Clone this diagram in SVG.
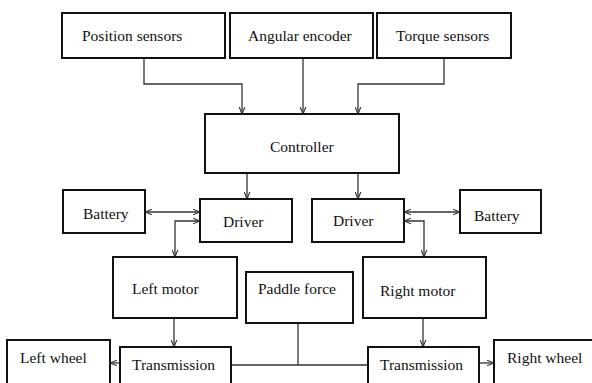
<svg xmlns="http://www.w3.org/2000/svg" width="592" height="383" viewBox="0 0 592 383">
<style>
.box{fill:#fff;stroke:#111;stroke-width:2}
.t{font-family:"Liberation Serif","Times New Roman",serif;font-size:15.5px;fill:#111}
.c{fill:none;stroke:#333;stroke-width:1.3}
</style>
<defs>
<marker id="a" viewBox="0 0 10 10" refX="10" refY="5" markerWidth="7" markerHeight="7" orient="auto-start-reverse" markerUnits="userSpaceOnUse">
<path d="M0,1 L10,5 L0,9" fill="none" stroke="#333" stroke-width="1.6"/>
</marker>
</defs>
<rect width="592" height="383" fill="#fff"/>
<g id="connectors">
<path class="c" d="M144,58 V84 H242 V114" marker-end="url(#a)"/>
<path class="c" d="M303,58 V114" marker-end="url(#a)"/>
<path class="c" d="M444,58 V84 H358 V114" marker-end="url(#a)"/>
<path class="c" d="M247,173 V199" marker-end="url(#a)"/>
<path class="c" d="M358,173 V199" marker-end="url(#a)"/>
<path class="c" d="M145,212 H200" marker-start="url(#a)" marker-end="url(#a)"/>
<path class="c" d="M200,221 H175 V257" marker-start="url(#a)" marker-end="url(#a)"/>
<path class="c" d="M404,212 H460" marker-start="url(#a)" marker-end="url(#a)"/>
<path class="c" d="M404,221 H424 V257" marker-start="url(#a)" marker-end="url(#a)"/>
<path class="c" d="M174,318 V347" marker-end="url(#a)"/>
<path class="c" d="M423,318 V347" marker-end="url(#a)"/>
<path class="c" d="M120,363 H110" marker-end="url(#a)"/>
<path class="c" d="M479,363 H494" marker-end="url(#a)"/>
<path class="c" d="M231,365 H368 M298,323 V365"/>
</g>
<g id="position-sensors"><rect class="box" x="62" y="13" width="163" height="45"/><text class="t" x="82" y="41">Position sensors</text></g>
<g id="angular-encoder"><rect class="box" x="230" y="13" width="143" height="45"/><text class="t" x="248" y="41">Angular encoder</text></g>
<g id="torque-sensors"><rect class="box" x="377" y="13" width="134" height="45"/><text class="t" x="396" y="41">Torque sensors</text></g>
<g id="controller"><rect class="box" x="205" y="114" width="194" height="59"/><text class="t" x="270" y="152">Controller</text></g>
<g id="driver-left"><rect class="box" x="200" y="199" width="92" height="43"/><text class="t" x="223" y="227">Driver</text></g>
<g id="driver-right"><rect class="box" x="312" y="199" width="92" height="43"/><text class="t" x="333" y="226">Driver</text></g>
<g id="battery-left"><rect class="box" x="63" y="190" width="82" height="43"/><text class="t" x="83" y="219">Battery</text></g>
<g id="battery-right"><rect class="box" x="460" y="190" width="81" height="43"/><text class="t" x="474" y="221">Battery</text></g>
<g id="left-motor"><rect class="box" x="113" y="257" width="124" height="61"/><text class="t" x="132" y="294">Left motor</text></g>
<g id="paddle-force"><rect class="box" x="246" y="272" width="107" height="51"/><text class="t" x="258" y="294">Paddle force</text></g>
<g id="right-motor"><rect class="box" x="363" y="257" width="123" height="61"/><text class="t" x="380" y="296">Right motor</text></g>
<g id="left-transmission"><rect class="box" x="120" y="347" width="111" height="45"/><text class="t" x="132" y="370">Transmission</text></g>
<g id="right-transmission"><rect class="box" x="368" y="347" width="111" height="45"/><text class="t" x="380" y="370">Transmission</text></g>
<g id="left-wheel"><rect class="box" x="7" y="340" width="103" height="52"/><text class="t" x="20" y="363">Left wheel</text></g>
<g id="right-wheel"><rect class="box" x="494" y="340" width="110" height="52"/><text class="t" x="507" y="363">Right wheel</text></g>
</svg>
